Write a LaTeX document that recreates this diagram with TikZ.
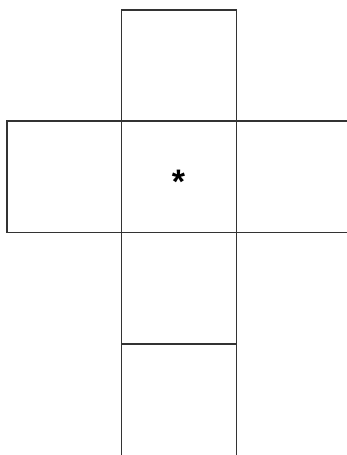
\documentclass[tikz,border=0pt]{standalone}
\usepackage{fontspec}
\setmainfont{Liberation Sans}
\begin{document}
\begin{tikzpicture}[x=1pt,y=-1pt,line width=1.4pt,
  face/.style={draw=black!80}]
\useasboundingbox (0,0) rectangle (347,455);
\clip (0,0) rectangle (347,455);
\draw[face] (121.5,10) rectangle (236.7,121);
\draw[face] (7,121) rectangle (121.5,232.5);
\draw[face] (121.5,121) rectangle (236.7,232.5);
\draw[face] (236.7,121) rectangle (360,232.5);
\draw[face] (121.5,232.5) rectangle (236.7,344);
\draw[face] (121.5,344) rectangle (236.7,470);
\node (star) at (178.5,182) {\fontsize{34}{34}\selectfont\bfseries *};
\end{tikzpicture}
\end{document}
